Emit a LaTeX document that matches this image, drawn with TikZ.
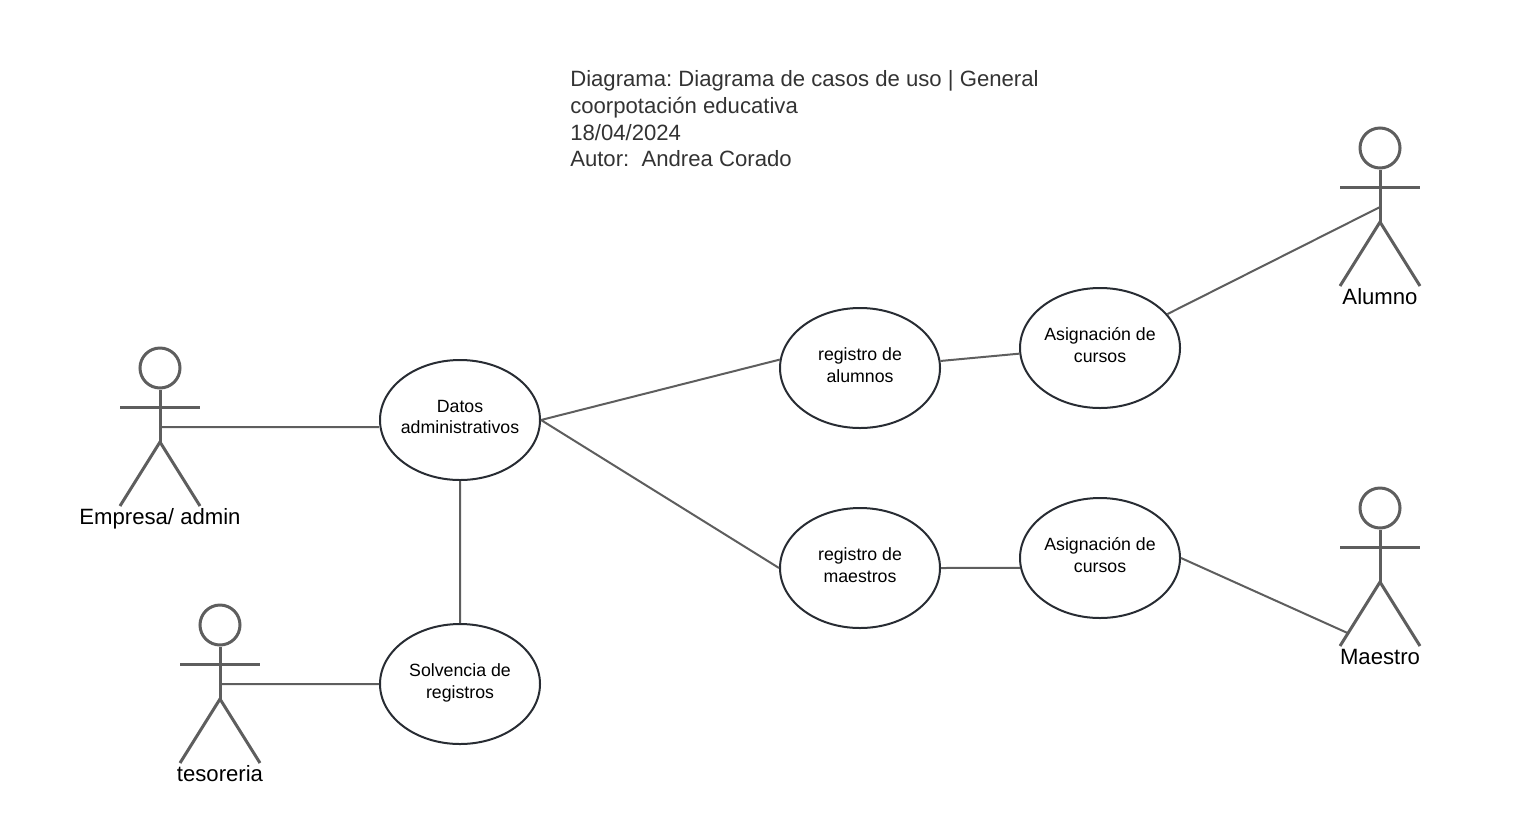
\documentclass[tikz,border=0pt]{standalone}
\usepackage{fontspec}
\setmainfont{Liberation Sans}
\usetikzlibrary{shapes.geometric,positioning,calc}
\definecolor{actorgray}{HTML}{5E5E5E}
\definecolor{ovalline}{HTML}{282C33}
\definecolor{titlegray}{HTML}{333333}
\frenchspacing
\tikzset{
	usecase/.style={ellipse,draw=ovalline,line width=1.5pt,minimum width=120pt,minimum height=90pt,inner xsep=-10pt,inner ysep=0pt,
		align=center,text depth=4.8pt,font=\fontsize{13.3}{16.3}\selectfont},
	link/.style={draw=actorgray,line width=1.5pt},
	limb/.style={draw=actorgray,line width=2.25pt},
	actor/.pic={
		\node[circle,limb,minimum size=30pt,inner sep=0pt] (-head) at (0,20) {};
		\coordinate (-hip) at (0,94);
		\coordinate (-left) at (-40,158);
		\coordinate (-right) at (40,158);
		\coordinate (-link) at (0,79);
		\coordinate (-knee) at ($(-hip)!0.8!(-left)$);
		\draw[limb] (-head) -- (-hip);
		\draw[limb] (-40,59) -- (40,59);
		\draw[limb] (-left) -- (-hip) -- (-right);
		\node[anchor=base,font=\fontsize{16.6}{20}\selectfont] (-label) at (0,176) {#1};
	},
}
\begin{document}
\begin{tikzpicture}[x=0.75pt,y=-0.75pt,on grid]
		\useasboundingbox (0,0) rectangle (1540,825);
		\node[anchor=north west,align=left,inner sep=0pt,text=titlegray,font=\fontsize{16.6}{20}\selectfont] (title) at (570,70.4)
		{Diagrama: Diagrama de casos de uso | General\\coorpotación educativa\\18/04/2024\\Autor:~~Andrea Corado};
		\node[usecase] (datos) at (460,420) {Datos\\administrativos};
		\node[usecase] (solvencia) [below=198pt of datos] {Solvencia de\\registros};
		\node[usecase] (regalumnos) [above right=39pt and 300pt of datos] {registro de\\alumnos};
		\node[usecase] (regmaestros) [below right=111pt and 300pt of datos] {registro de\\maestros};
		\node[usecase] (asigalumnos) [above right=15pt and 180pt of regalumnos] {Asignación de\\cursos};
		\node[usecase] (asigmaestros) [above right=7.5pt and 180pt of regmaestros] {Asignación de\\cursos};
		\pic (empresa) at (160,348) {actor={Empresa/ admin}};
		\pic (tesoreria) at (220,605) {actor={tesoreria}};
		\pic (alumno) at (1380,128) {actor={Alumno}};
		\pic (maestro) at (1380,488) {actor={Maestro}};
		\path[link]
		(empresa-link) -- (empresa-link -| datos.west)
		(tesoreria-link) -- (solvencia.west)
		(datos.east) -- (regalumnos.174)
		(datos.east) -- (regmaestros.west)
		(datos.south) -- (solvencia.north)
		(regalumnos.5) -- (asigalumnos.184)
		(regmaestros.east) -- (asigmaestros.187)
		(asigalumnos) -- (alumno-link)
		(asigmaestros.east) -- (maestro-knee);
\end{tikzpicture}
\end{document}
